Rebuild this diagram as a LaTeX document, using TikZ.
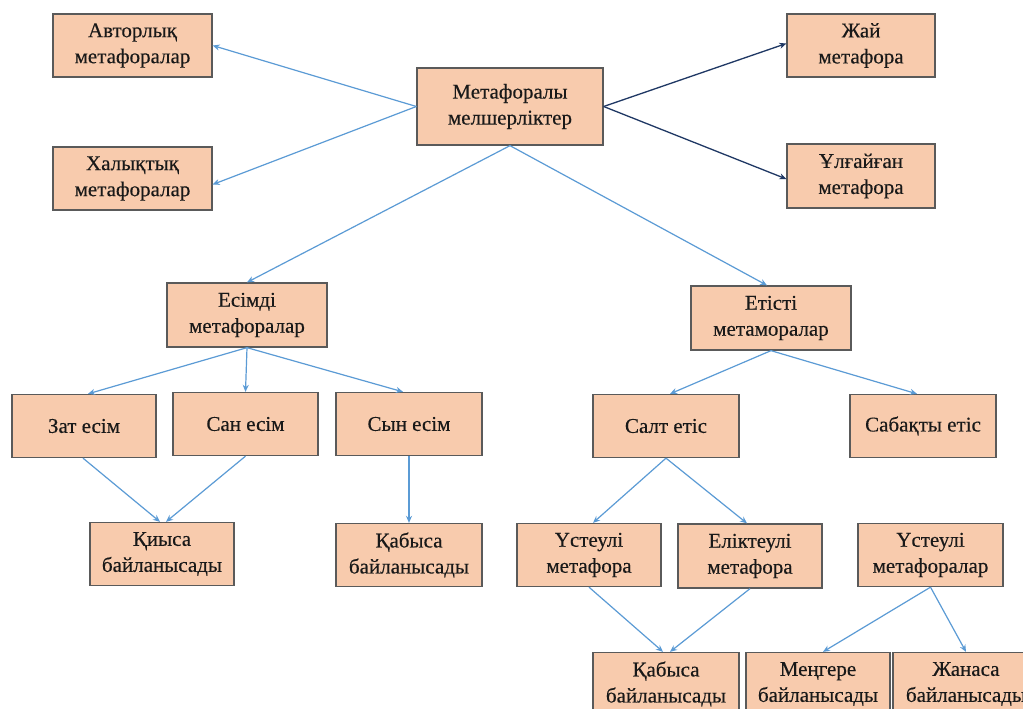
\documentclass[tikz,border=0pt]{standalone}
\usepackage{fontspec}
\setmainfont{Liberation Serif}
\newfontfamily\boxfont[FakeBold=0.3]{Liberation Serif}
\usetikzlibrary{arrows.meta}
\definecolor{boxfill}{HTML}{F8CBAD}
\definecolor{boxline}{HTML}{5A5A5A}
\definecolor{arrblue}{HTML}{5B9BD5}
\definecolor{arrnavy}{HTML}{1F3864}
\tikzset{
  box/.style={draw=boxline, line width=1.3pt, fill=boxfill, align=center,
    inner sep=0pt, minimum width=145pt, minimum height=63pt,
    font=\fontsize{21}{26}\boxfont\selectfont, text=black!90},
  arr/.style={draw=arrblue, line width=1.2pt, -{Stealth[length=7pt,width=6pt]}},
  darr/.style={draw=arrnavy, line width=1.3pt, -{Stealth[length=7pt,width=6pt]}}
}
\begin{document}
\begin{tikzpicture}[x=1pt,y=-1pt]
\useasboundingbox (0,0) rectangle (1023,709);
\clip (0,0) rectangle (1023,709);
\fill[white] (0,0) rectangle (1023,709);
% top row
\node[box, minimum width=159pt] (avt) at (132.5,45.5) {Авторлық\\метафоралар};
\node[box, minimum width=159pt] (hal) at (132.5,178.5) {Халықтық\\метафоралар};
\node[box, minimum width=186pt, minimum height=77pt] (root) at (510,106.5) {Метафоралы\\мелшерліктер};
\node[box, minimum width=148pt] (zhai) at (861,45.5) {Жай\\метафора};
\node[box, minimum width=148pt, minimum height=64pt] (ulg) at (861,176) {Ұлғайған\\метафора};
% second level
\node[box, minimum width=160pt, minimum height=64pt] (esim) at (247,315) {Есімді\\метафоралар};
\node[box, minimum width=160pt, minimum height=64pt] (etis) at (771,318) {Етісті\\метаморалар};
% third level
\node[box, minimum width=144pt] (zat) at (84,426) {Зат есім};
\node[box] (san) at (245.5,424) {Сан есім};
\node[box, minimum width=146pt] (syn) at (409,424) {Сын есім};
\node[box, minimum width=146pt] (salt) at (666,426) {Салт етіс};
\node[box, minimum width=146pt] (sab) at (923,426) {Сабақты етіс};
% fourth level
\node[box, minimum width=144pt] (qiy) at (162,554) {Қиыса\\байланысады};
\node[box, minimum width=146pt] (qab) at (409,555) {Қабыса\\байланысады};
\node[box, minimum width=144pt] (ust) at (589,555) {Үстеулі\\метафора};
\node[box, minimum width=144pt, minimum height=64pt] (elik) at (750,556) {Еліктеулі\\метафора};
\node[box] (ust2) at (930.5,555) {Үстеулі\\метафоралар};
% bottom level
\node[box, minimum width=146pt] (qab2) at (666,684) {Қабыса\\байланысады};
\node[box, minimum width=144pt] (meng) at (818,684) {Меңгере\\байланысады};
\node[box, minimum width=146pt] (zhan) at (966,684) {Жанаса\\байланысады};
% connectors
\draw[arr] (root.west) -- (avt.east);
\draw[arr] (root.west) -- ([yshift=-6pt]hal.east);
\draw[darr] (root.east) -- ([yshift=2pt]zhai.west);
\draw[darr] (root.east) -- ([yshift=-3pt]ulg.west);
\draw[arr] (root.south) -- (esim.north);
\draw[arr] (root.south) -- ([xshift=-4pt]etis.north);
\draw[arr] (esim.south) -- ([xshift=4pt]zat.north);
\draw[arr] (esim.south) -- (san.north);
\draw[arr] (esim.south) -- ([xshift=-6pt]syn.north);
\draw[arr] ([xshift=-1pt]zat.south) -- ([xshift=-2pt]qiy.north);
\draw[arr] (san.south) -- ([xshift=4pt]qiy.north);
\draw[arr] (syn.south) -- (qab.north);
\draw[arr] (etis.south) -- ([xshift=4pt]salt.north);
\draw[arr] (etis.south) -- ([xshift=-6pt]sab.north);
\draw[arr] (salt.south) -- ([xshift=4pt]ust.north);
\draw[arr] (salt.south) -- ([xshift=-3pt]elik.north);
\draw[arr] (ust.south) -- ([xshift=-3pt]qab2.north);
\draw[arr] (elik.south) -- ([xshift=4pt]qab2.north);
\draw[arr] (ust2.south) -- ([xshift=5pt]meng.north);
\draw[arr] (ust2.south) -- (zhan.north);
\end{tikzpicture}
\end{document}
